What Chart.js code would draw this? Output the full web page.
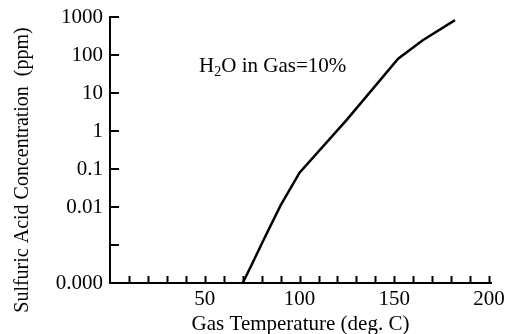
<!DOCTYPE html>
<html><head><meta charset="utf-8">
<script src="https://cdn.jsdelivr.net/npm/chart.js@4/dist/chart.umd.min.js"></script>
<style>html,body{margin:0;padding:0;background:#fff}#w{width:507px;height:334px;position:relative}</style>
</head><body><div id="w"><canvas id="c"></canvas></div>
<script>
// Data
const temps = [70, 75, 81, 90, 100, 125, 152, 165, 182];
const conc  = [0.0001, 0.00032, 0.00135, 0.011, 0.08, 2, 80, 245, 830];

const yTickValues = [1000, 100, 10, 1, 0.1, 0.01, 0.001, 0.0001];
const yTickLabels = ['1000', '100', '10', '1', '0.1', '0.01', '', '0.000'];
const xTickValues = [10, 20, 30, 40, 50, 60, 70, 80, 90, 100, 110, 120, 130, 140, 150, 160, 170, 180, 190, 200];
const xLabelValues = [50, 100, 150, 200];

const xTitle = 'Gas Temperature (deg. C)';
const yTitle = 'Sulfuric Acid Concentration  (ppm)';
const noteMain = 'H', noteSub = '2', noteRest = 'O in Gas=10%';

const FONT = '"Liberation Serif", "Times New Roman", serif';
const FS = 21;

const inwardTicks = {
  id: 'inwardTicks',
  afterDraw(chart) {
    const ctx = chart.ctx, xs = chart.scales.x, ys = chart.scales.y, a = chart.chartArea;
    ctx.save();
    ctx.strokeStyle = '#000';
    ctx.lineWidth = 2;
    ctx.beginPath();
    yTickValues.forEach(v => {
      const py = Math.round(ys.getPixelForValue(v));
      ctx.moveTo(a.left, py); ctx.lineTo(a.left + 9, py);
    });
    xTickValues.forEach(v => {
      const px = Math.round(xs.getPixelForValue(v)) + 0.5;
      ctx.moveTo(px, a.bottom); ctx.lineTo(px, a.bottom - 7);
    });
    ctx.stroke();
    // y title
    ctx.fillStyle = '#000';
    ctx.font = '20px ' + FONT;
    ctx.save();
    ctx.translate(23, 170);
    ctx.rotate(-Math.PI / 2);
    ctx.textAlign = 'center';
    ctx.textBaseline = 'middle';
    ctx.fillText(yTitle, 0, 0);
    ctx.restore();
    // annotation
    const nx = xs.getPixelForValue(47), ny = ys.getPixelForValue(36);
    ctx.textBaseline = 'alphabetic';
    ctx.textAlign = 'left';
    ctx.font = FS + 'px ' + FONT;
    ctx.fillText(noteMain, nx, ny);
    let w = ctx.measureText(noteMain).width;
    ctx.font = '14px ' + FONT;
    ctx.fillText(noteSub, nx + w, ny + 4);
    w += ctx.measureText(noteSub).width;
    ctx.font = FS + 'px ' + FONT;
    ctx.fillText(noteRest, nx + w, ny);
    ctx.restore();
  }
};

new Chart(document.getElementById('c'), {
  type: 'line',
  data: {
    datasets: [{
      data: temps.map((t, i) => ({x: t, y: conc[i]})),
      borderColor: '#000',
      borderWidth: 2.5,
      pointRadius: 0,
      tension: 0,
      fill: false
    }]
  },
  options: {
    responsive: true,
    maintainAspectRatio: false,
    animation: false,
    events: [],
    layout: {padding: {top: 17, right: 16, left: 0, bottom: 0}},
    plugins: {legend: {display: false}, tooltip: {enabled: false}},
    scales: {
      x: {
        type: 'linear', min: 0, max: 201,
        afterBuildTicks: s => { s.ticks = xTickValues.map(v => ({value: v})); },
        afterFit: s => { s.height = 51; s.paddingRight = 0; s.paddingLeft = 0; },
        ticks: {
          autoSkip: false, maxRotation: 0, padding: 6, color: '#000',
          font: {family: FONT, size: FS, lineHeight: 1},
          callback: v => xLabelValues.includes(v) ? String(v) : ''
        },
        grid: {display: true, drawOnChartArea: false, drawTicks: false},
        border: {display: true, color: '#000', width: 2},
        title: {display: true, text: xTitle, color: '#000', font: {family: FONT, size: FS, lineHeight: 1}, padding: {top: 0, bottom: -1}}
      },
      y: {
        type: 'logarithmic', min: 0.0001, max: 1000,
        afterBuildTicks: s => { s.ticks = yTickValues.map(v => ({value: v})); },
        afterFit: s => { s.width = 110; s.paddingTop = 0; s.paddingBottom = 0; },
        ticks: {
          autoSkip: false, padding: 7, color: '#000',
          font: {family: FONT, size: FS},
          callback: (v) => { const i = yTickValues.findIndex(t => Math.abs(Math.log10(t) - Math.log10(v)) < 1e-6); return i >= 0 ? yTickLabels[i] : ''; }
        },
        grid: {display: true, drawOnChartArea: false, drawTicks: false},
        border: {display: true, color: '#000', width: 2}
      }
    }
  },
  plugins: [inwardTicks]
});
</script>
</body></html>
